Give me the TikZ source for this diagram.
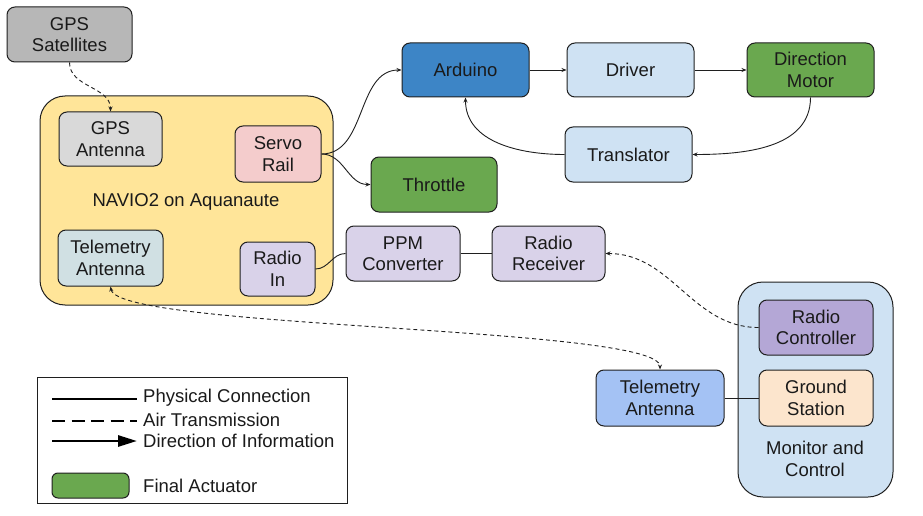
\documentclass[tikz,border=0pt]{standalone}
\usepackage{fontspec}
\setmainfont{Liberation Sans}
\usepackage{xcolor}
\usetikzlibrary{positioning, arrows.meta}
\definecolor{edgegray}{HTML}{1F1F1F}
\definecolor{textdark}{HTML}{1A1A1A}
\definecolor{satgray}{HTML}{B7B7B7}
\definecolor{antgray}{HTML}{D9D9D9}
\definecolor{naviofill}{HTML}{FFE599}
\definecolor{servofill}{HTML}{F4CCCC}
\definecolor{telefill}{HTML}{D0E0E3}
\definecolor{radiofill}{HTML}{D9D2E9}
\definecolor{arduinoblue}{HTML}{3D85C6}
\definecolor{lightblue}{HTML}{CFE2F3}
\definecolor{actgreen}{HTML}{6AA84F}
\definecolor{ctlpurple}{HTML}{B4A7D6}
\definecolor{stationfill}{HTML}{FCE5CD}
\definecolor{gndtelefill}{HTML}{A4C2F4}

\begin{document}
\begin{tikzpicture}[
    x=1pt, y=-1pt,
    every node/.style={font=\fontsize{18.5}{21.5}\selectfont, text=textdark, align=center, inner sep=0pt},
    unit/.style     ={draw=edgegray, line width=1pt, rounded corners=8pt, minimum width=127pt, minimum height=54pt},
    group/.style    ={draw=edgegray, line width=1pt, rounded corners=25pt},
    wire/.style     ={line width=0.9pt, draw=edgegray},
    infoflow/.style ={wire, -{Stealth[length=5pt, width=4pt]}},
    radiolink/.style={wire, dashed, dash pattern=on 4pt off 3pt},
    node distance=37pt
]
\useasboundingbox (0,0) rectangle (923,516);

% ========== Containers ==========
\node[group, fill=naviofill, minimum width=293pt, minimum height=209pt] (navio) at (186.5,200.5) {};
\node at (186,202) (naviolabel) {NAVIO2 on Aquanaute};
\node[group, fill=lightblue, minimum width=155pt, minimum height=215pt] (monitor) at (815.5,389.5) {};
\node at (815,459) (monitorlabel) {Monitor and\\Control};

% ========== GPS ==========
\node[unit, fill=satgray, minimum width=125pt, minimum height=55pt] (gpssat) at (69.5,34.5) {GPS\\Satellites};
\node[unit, fill=antgray, minimum width=103pt] (gpsant) at (110.5,139) {GPS\\Antenna};

% ========== NAVIO2 parts ==========
\node[unit, fill=servofill, minimum width=86pt, minimum height=56pt] (servo) at (278,154) {Servo\\Rail};
\node[unit, fill=telefill, minimum width=105pt, minimum height=56pt] (telant) at (110.5,258) {Telemetry\\Antenna};
\node[unit, fill=radiofill, minimum width=75pt] (radioin) at (277.5,269) {Radio\\In};

% ========== Radio chain ==========
\node[unit, fill=radiofill, minimum width=114pt, minimum height=55pt] (ppm) at (403,253.5) {PPM\\Converter};
\node[unit, fill=radiofill, minimum width=113pt, minimum height=55pt, right=31pt of ppm] (receiver) {Radio\\Receiver};

% ========== Steering chain ==========
\node[unit, fill=arduinoblue] (arduino) at (465.5,70) {Arduino};
\node[unit, fill=lightblue, right=of arduino] (driver) {Driver};
\node[unit, fill=actgreen, right=52pt of driver] (dirmotor) {Direction\\Motor};
\node[unit, fill=lightblue, minimum height=55pt] (translator) at (628.5,154.5) {Translator};
\node[unit, fill=actgreen, minimum width=126pt, minimum height=55pt] (throttle) at (434,184.5) {Throttle};

% ========== Monitor and Control ==========
\node[unit, fill=ctlpurple, minimum width=114pt, minimum height=55pt] (radioctl) at (816,327.5) {Radio\\Controller};
\node[unit, fill=stationfill, minimum width=114pt, minimum height=56pt] (station) at (816,398) {Ground\\Station};
\node[unit, fill=gndtelefill, minimum width=128pt, minimum height=56pt, left=34pt of station] (gndtel) {Telemetry\\Antenna};

% ========== ARROWS ==========
% air links
\draw[radiolink, -{Stealth[length=5pt, width=4pt]}] (gpssat.south) to[out=-90, in=90] (gpsant.north);
\draw[radiolink, -{Stealth[length=5pt, width=4pt]}] (radioctl.west) to[out=180, in=0] (receiver.east);
\draw[radiolink, {Stealth[length=5pt, width=4pt]}-{Stealth[length=5pt, width=4pt]}]
    (telant.south) to[out=-80, in=90, looseness=0.2] (gndtel.north);

% servo rail outputs
\draw[infoflow] (servo.east) to[out=0, in=180] (arduino.west);
\draw[infoflow] (servo.east) to[out=0, in=180] (throttle.west);

% steering loop
\draw[infoflow] (arduino) -- (driver);
\draw[infoflow] (driver) -- (dirmotor);
\draw[infoflow] (dirmotor.south) to[out=-90, in=0] (translator.east);
\draw[infoflow] (translator.west) to[out=180, in=-90] (arduino.south);

% physical links
\draw[wire] (radioin.east) to[out=0, in=180] (ppm.west);
\draw[wire] (ppm) -- (receiver);
\draw[wire] (gndtel) -- (station);

% ========== Legend ==========
\node[draw=edgegray, line width=0.8pt, minimum width=310pt, minimum height=126pt] (legend) at (192,440) {};
\coordinate (solidA) at (52,399);   \coordinate (solidB) at (137,399);
\coordinate (dashA)  at (52,421);   \coordinate (dashB)  at (137,421);
\coordinate (flowA)  at (52,441);   \coordinate (flowB)  at (137,441);
\draw[line width=2.8pt] (solidA) -- (solidB);
\draw[line width=2.8pt, dash pattern=on 13pt off 6.5pt] (dashA) -- (dashB);
\draw[line width=2.8pt, -{Triangle[length=19pt, width=11pt]}] (flowA) -- (flowB);
\node[anchor=west] (physical) at (143,398) {Physical Connection};
\node[anchor=west] (air)      at (143,420) {Air Transmission};
\node[anchor=west] (direction) at (143,441) {Direction of Information};
\node[draw=edgegray, line width=1pt, fill=actgreen, rounded corners=6pt, minimum width=77pt, minimum height=25pt] (actsample) at (90.5,485.5) {};
\node[anchor=west] (actuator) at (143,486) {Final Actuator};

\end{tikzpicture}
\end{document}
